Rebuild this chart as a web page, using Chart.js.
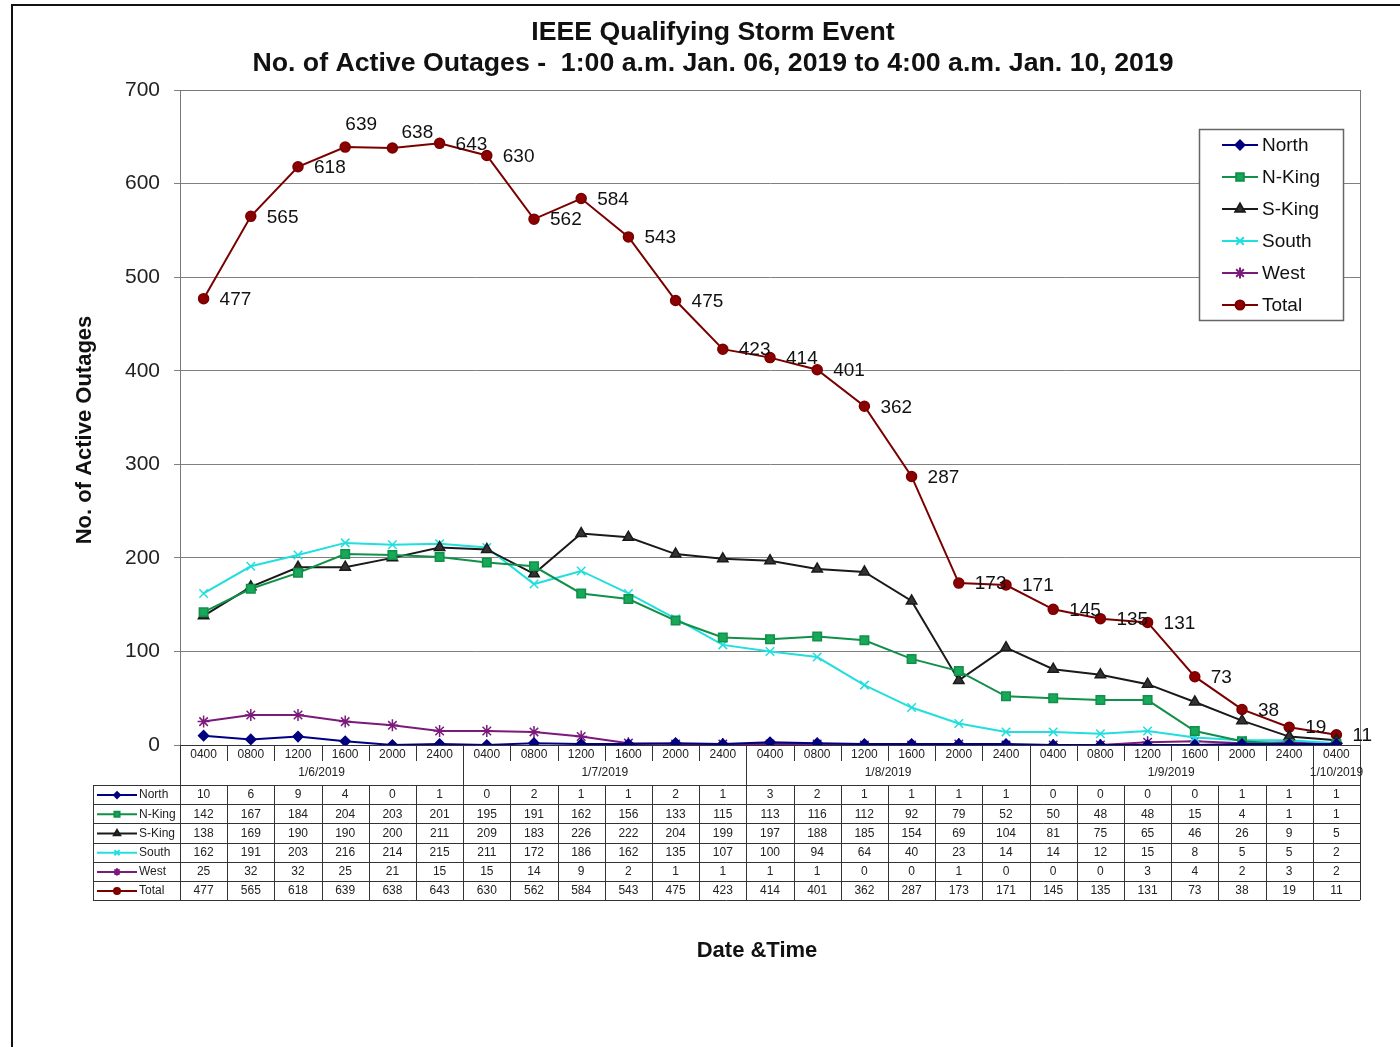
<!DOCTYPE html>
<html>
<head>
<meta charset="utf-8">
<script src="https://cdn.jsdelivr.net/npm/chart.js@4.4.1/dist/chart.umd.min.js"></script>
<style>
  html, body { margin: 0; padding: 0; background: #fff; }
  #wrap { width: 1400px; height: 1047px; position: relative; }
</style>
</head>
<body>
<div id="wrap"><canvas id="c" width="1400" height="1047"></canvas></div>
<script>
// 時間標籤 (每 4 小時)
const timeLabels = ['0400','0800','1200','1600','2000','2400',
  '0400','0800','1200','1600','2000','2400',
  '0400','0800','1200','1600','2000','2400',
  '0400','0800','1200','1600','2000','2400',
  '0400'];
const dayLabels = ['1/6/2019', '1/7/2019', '1/8/2019', '1/9/2019', '1/10/2019'];
const daySpans = [6, 6, 6, 6, 1];

const north  = [10, 6, 9, 4, 0, 1, 0, 2, 1, 1, 2, 1, 3, 2, 1, 1, 1, 1, 0, 0, 0, 0, 1, 1, 1];
const nKing  = [142, 167, 184, 204, 203, 201, 195, 191, 162, 156, 133, 115, 113, 116, 112, 92, 79, 52, 50, 48, 48, 15, 4, 1, 1];
const sKing  = [138, 169, 190, 190, 200, 211, 209, 183, 226, 222, 204, 199, 197, 188, 185, 154, 69, 104, 81, 75, 65, 46, 26, 9, 5];
const south  = [162, 191, 203, 216, 214, 215, 211, 172, 186, 162, 135, 107, 100, 94, 64, 40, 23, 14, 14, 12, 15, 8, 5, 5, 2];
const west   = [25, 32, 32, 25, 21, 15, 15, 14, 9, 2, 1, 1, 1, 1, 0, 0, 1, 0, 0, 0, 3, 4, 2, 3, 2];
const total  = [477, 565, 618, 639, 638, 643, 630, 562, 584, 543, 475, 423, 414, 401, 362, 287, 173, 171, 145, 135, 131, 73, 38, 19, 11];

const yTicks = [0, 100, 200, 300, 400, 500, 600, 700];

const FONT = '"Liberation Sans", Arial, sans-serif';

const series = [
  { label: 'North',  data: north, color: '#000080', fill: '#000080', style: 'rectRot', r: 5 },
  { label: 'N-King', data: nKing, color: '#109048', fill: '#17a85a', style: 'rect', r: 6 },
  { label: 'S-King', data: sKing, color: '#1a1a1a', fill: '#333333', style: 'triangle', r: 6 },
  { label: 'South',  data: south, color: '#22dede', fill: '#22dede', style: 'crossRot', r: 6 },
  { label: 'West',   data: west,  color: '#7a1a7a', fill: '#7a1a7a', style: 'star', r: 6 },
  { label: 'Total',  data: total, color: '#7a0000', fill: '#8b0000', style: 'circle', r: 5 }
];

function marker(ctx, s, x, y, scale) {
  ctx.save();
  ctx.fillStyle = s.fill;
  ctx.strokeStyle = s.color;
  ctx.lineWidth = 2;
  Chart.helpers.drawPoint(ctx, { pointStyle: s.style, radius: s.r * scale, rotation: 0, borderWidth: 2 }, x, y);
  ctx.restore();
}

// 圖表裝飾: 標題、資料標籤、圖例、資料表
const decorPlugin = {
  id: 'decor',
  afterDraw(chart) {
    const ctx = chart.ctx;
    const area = chart.chartArea;
    const xs = chart.scales.x;
    const ys = chart.scales.y;
    const n = timeLabels.length;
    ctx.save();

    // 外框
    ctx.strokeStyle = '#111';
    ctx.lineWidth = 2;
    ctx.beginPath();
    ctx.moveTo(12, 1047);
    ctx.lineTo(12, 5);
    ctx.lineTo(1400, 5);
    ctx.stroke();

    // 繪圖區框線
    ctx.strokeStyle = '#777';
    ctx.lineWidth = 1;
    ctx.strokeRect(area.left + 0.5, area.top + 0.5, area.right - area.left, area.bottom - area.top);

    // 標題
    ctx.fillStyle = '#111';
    ctx.textAlign = 'center';
    ctx.textBaseline = 'middle';
    ctx.font = 'bold 26.7px ' + FONT;
    ctx.fillText('IEEE Qualifying Storm Event', 713, 33);
    ctx.fillText('No. of Active Outages -  1:00 a.m. Jan. 06, 2019 to 4:00 a.m. Jan. 10, 2019', 713, 64);

    ctx.font = 'bold 22px ' + FONT;
    ctx.fillText('Date &Time', 757, 951);
    ctx.save();
    ctx.translate(85, 430);
    ctx.rotate(-Math.PI / 2);
    ctx.fillText('No. of Active Outages', 0, 0);
    ctx.restore();

    // Total 資料標籤
    ctx.font = '19px ' + FONT;
    ctx.fillStyle = '#111';
    total.forEach((v, i) => {
      const x = xs.getPixelForValue(i);
      const y = ys.getPixelForValue(v);
      if (i === 3) {
        ctx.textAlign = 'center';
        ctx.fillText(String(v), x + 16, y - 22);
      } else if (i === 4) {
        ctx.textAlign = 'center';
        ctx.fillText(String(v), x + 25, y - 15);
      } else {
        ctx.textAlign = 'left';
        ctx.fillText(String(v), x + 16, y + 1);
      }
    });

    // 圖例
    const lgX = 1199, lgY = 129, lgW = 144, lgH = 191;
    ctx.fillStyle = '#fff';
    ctx.fillRect(lgX, lgY, lgW, lgH);
    ctx.strokeStyle = '#666';
    ctx.lineWidth = 1.5;
    ctx.strokeRect(lgX + 0.5, lgY + 0.5, lgW, lgH);
    ctx.font = '19px ' + FONT;
    ctx.textAlign = 'left';
    series.forEach((s, i) => {
      const y = 145 + i * 32;
      ctx.strokeStyle = s.color;
      ctx.lineWidth = 2;
      ctx.beginPath();
      ctx.moveTo(1222, y);
      ctx.lineTo(1258, y);
      ctx.stroke();
      marker(ctx, s, 1240, y, 0.9);
      ctx.fillStyle = '#111';
      ctx.fillText(s.label, 1262, y + 1);
    });

    // X 軸分類與資料表
    const colW = xs.getPixelForValue(1) - xs.getPixelForValue(0);
    const edge = i => xs.getPixelForValue(i) - colW / 2;
    const tableTop = 785, rowH = 19.2, tableLeft = 93, headRight = area.left;
    const tableBottom = tableTop + rowH * series.length;

    ctx.strokeStyle = '#333';
    ctx.lineWidth = 1;
    // 0 軸線
    ctx.beginPath();
    ctx.moveTo(area.left, area.bottom + 0.5);
    ctx.lineTo(area.right, area.bottom + 0.5);
    ctx.stroke();

    // 分隔刻度
    const dayEdges = [0];
    daySpans.reduce((acc, s) => { dayEdges.push(acc + s); return acc + s; }, 0);
    for (let i = 0; i <= n; i++) {
      const x = Math.round(edge(i)) + 0.5;
      const isDay = dayEdges.includes(i);
      ctx.beginPath();
      ctx.moveTo(x, area.bottom);
      ctx.lineTo(x, isDay ? tableTop : area.bottom + 16);
      ctx.stroke();
    }

    ctx.fillStyle = '#222';
    ctx.font = '12px ' + FONT;
    ctx.textAlign = 'center';
    timeLabels.forEach((t, i) => ctx.fillText(t, xs.getPixelForValue(i), area.bottom + 10));
    let start = 0;
    dayLabels.forEach((d, k) => {
      const cx = (edge(start) + edge(start + daySpans[k])) / 2;
      ctx.fillText(d, cx, 773);
      start += daySpans[k];
    });

    // 表格線
    for (let r = 0; r <= series.length; r++) {
      const y = Math.round(tableTop + r * rowH) + 0.5;
      ctx.beginPath();
      ctx.moveTo(tableLeft, y);
      ctx.lineTo(area.right, y);
      ctx.stroke();
    }
    [tableLeft, headRight].forEach(x => {
      ctx.beginPath();
      ctx.moveTo(Math.round(x) + 0.5, tableTop);
      ctx.lineTo(Math.round(x) + 0.5, tableBottom);
      ctx.stroke();
    });
    for (let i = 0; i <= n; i++) {
      const x = Math.round(edge(i)) + 0.5;
      ctx.beginPath();
      ctx.moveTo(x, tableTop);
      ctx.lineTo(x, tableBottom);
      ctx.stroke();
    }

    // 表格內容
    series.forEach((s, r) => {
      const cy = tableTop + r * rowH + rowH / 2 + 0.5;
      ctx.strokeStyle = s.color;
      ctx.lineWidth = 2;
      ctx.beginPath();
      ctx.moveTo(97, cy);
      ctx.lineTo(137, cy);
      ctx.stroke();
      marker(ctx, s, 117, cy, 0.6);
      ctx.fillStyle = '#222';
      ctx.textAlign = 'left';
      ctx.fillText(s.label, 139, cy);
      ctx.textAlign = 'center';
      s.data.forEach((v, i) => ctx.fillText(String(v), xs.getPixelForValue(i), cy));
    });

    ctx.restore();
  }
};

new Chart(document.getElementById('c'), {
  type: 'line',
  data: {
    labels: timeLabels,
    datasets: series.map(s => ({
      label: s.label,
      data: s.data,
      borderColor: s.color,
      backgroundColor: s.fill,
      borderWidth: 2,
      pointStyle: s.style,
      pointRadius: s.r,
      pointBackgroundColor: s.fill,
      pointBorderColor: s.color,
      pointBorderWidth: 1.5,
      tension: 0
    }))
  },
  options: {
    responsive: false,
    animation: false,
    layout: { padding: { left: 120, right: 40, top: 90, bottom: 302 } },
    plugins: { legend: { display: false }, tooltip: { enabled: false }, title: { display: false } },
    scales: {
      x: { type: 'category', offset: true, display: false },
      y: {
        min: 0,
        max: 700,
        afterFit: s => { s.width = 60; },
        afterBuildTicks: s => { s.ticks = yTicks.map(v => ({ value: v })); },
        ticks: { color: '#222', font: { family: FONT, size: 21 }, padding: 14 },
        grid: { color: '#808080', lineWidth: 1, tickLength: 6 },
        border: { color: '#555' }
      }
    }
  },
  plugins: [decorPlugin]
});
</script>
</body>
</html>
